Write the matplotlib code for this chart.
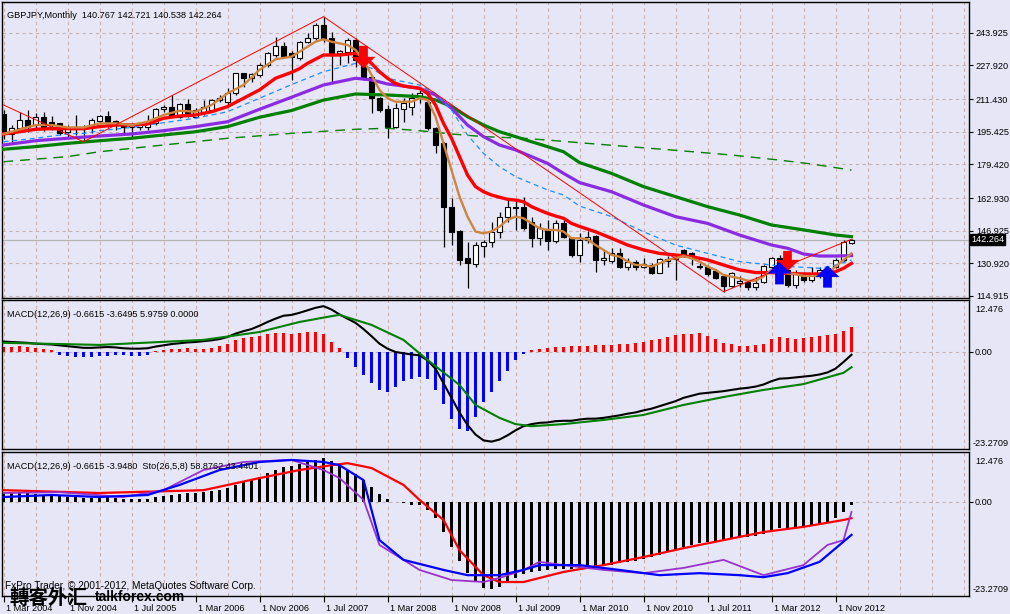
import matplotlib
matplotlib.use("Agg")
import matplotlib.pyplot as plt
import matplotlib.transforms as mtransforms
import numpy as np

plt.rcParams['font.family'] = ['Liberation Sans', 'DejaVu Sans']

# ---------------- texts ----------------
title_main = "GBPJPY,Monthly  140.767 142.721 140.538 142.264"
title_macd = "MACD(12,26,9) -0.6615 -3.6495 5.9759 0.0000"
title_sto = "MACD(12,26,9) -0.6615 -3.9480  Sto(26,5,8) 58.8762 43.4401"
copyright_text = "FxPro Trader, © 2001-2012, MetaQuotes Software Corp."
watermark_cn = "轉客外汇"
watermark_en = "talkforex.com"

# ---------------- monthly candles (Mar 2004 .. Jan 2013) ----------------
opens = [204.1,194.3,197.1,201.2,198.7,202.8,200.3,199.5,195.4,196.5,
         197.0,198.7,200.8,203.1,200.6,198.7,197.8,197.6,197.9,199.5,
         206.4,207.7,202.8,208.8,202.8,205.2,206.0,210.9,210.1,214.2,
         224.0,221.6,223.2,228.1,233.0,237.4,233.8,231.4,239.5,241.2,
         247.7,241.2,233.8,234.6,240.3,230.5,222.4,211.8,206.4,197.9,
         206.4,207.7,211.8,210.1,197.1,189.7,158.7,146.9,133.4,130.6,
         139.4,141.5,146.5,153.8,158.7,158.7,151.4,143.5,147.3,142.0,
         150.5,143.2,135.0,142.4,144.3,132.6,132.1,135.8,129.3,131.4,
         129.0,130.1,126.4,131.9,132.9,137.5,135.8,129.6,129.3,127.3,
         124.7,119.8,121.5,121.9,119.5,121.9,129.3,133.4,127.7,120.3,
         126.0,122.7,124.7,126.0,129.3,132.6,140.767]
highs = [206.0,198.7,205.2,206.0,204.7,205.2,203.1,199.8,198.7,203.6,
         198.7,202.0,203.6,205.5,201.2,199.5,199.5,199.8,203.6,206.9,
         208.5,213.4,209.3,211.3,206.9,210.9,211.3,213.4,216.7,224.3,
         224.3,224.0,228.9,234.6,242.0,239.5,235.0,240.0,243.6,248.5,
         251.8,244.4,235.5,241.2,241.2,232.2,223.2,212.6,208.5,209.3,
         211.8,214.2,215.9,211.8,197.9,190.5,162.8,147.2,141.5,141.5,
         142.4,151.4,156.3,161.9,161.9,163.6,153.8,150.5,152.2,152.2,
         152.2,144.0,145.6,147.0,144.8,137.5,138.3,138.3,133.4,132.6,
         133.4,130.9,133.4,134.5,135.0,137.8,136.6,130.9,130.1,128.0,
         125.5,126.8,124.7,122.7,124.0,130.1,134.2,135.0,128.5,127.7,
         126.8,129.3,129.3,129.3,133.4,142.4,142.721]
lows = [192.0,190.5,195.4,195.4,196.3,195.9,196.3,193.8,192.2,194.0,
        190.5,194.9,199.5,197.9,196.3,194.6,192.2,196.3,196.3,198.7,
        205.2,202.8,202.0,202.8,202.0,203.6,205.2,210.1,208.5,213.4,
        217.5,219.9,222.4,227.3,232.2,232.2,220.8,230.5,238.7,240.3,
        239.5,219.9,228.1,228.9,227.3,220.8,204.4,205.0,192.2,197.1,
        200.3,203.6,209.5,196.3,184.8,139.1,139.9,130.1,118.7,129.3,
        134.2,139.1,143.2,151.4,147.3,147.3,139.1,139.9,137.5,140.7,
        143.2,134.2,131.8,141.0,126.8,130.1,131.0,128.5,127.7,127.7,
        128.5,125.7,126.0,129.0,122.7,134.2,130.1,128.0,124.7,123.1,
        117.0,119.5,119.5,117.9,117.9,121.1,127.7,127.7,119.5,118.7,
        121.9,121.9,123.6,125.2,128.5,131.8,140.538]
closes = [194.6,197.1,201.2,197.9,202.8,197.1,198.7,194.6,197.1,197.5,
          196.6,201.2,203.1,200.3,198.7,197.6,198.6,199.5,200.6,206.4,
          207.7,203.1,208.8,203.1,206.0,207.7,210.9,212.1,214.2,224.0,
          221.6,223.7,228.1,233.8,237.4,232.7,232.2,239.5,241.2,247.7,
          240.7,233.8,235.1,240.3,230.5,222.4,211.8,206.0,197.9,206.9,
          209.3,211.8,214.2,197.1,188.9,158.4,146.5,132.6,130.9,139.9,
          141.5,146.5,153.8,158.7,158.0,148.1,143.5,148.1,142.0,150.5,
          144.0,135.0,142.4,143.6,132.6,133.4,136.1,129.3,131.4,129.0,
          130.4,126.4,132.9,132.9,133.5,135.0,133.4,129.0,125.7,123.6,
          119.8,126.0,122.5,119.5,121.5,129.6,133.4,128.5,120.3,126.0,
          122.7,125.2,127.7,128.5,132.6,141.5,142.264]
last_close = 142.264

ma_tan_x = [0,4,6,8,10,12,14,16,18,20,22,24,26,28,30,32,34,36,37,39,40,41,43,44,45,46,47,48,49,51,52,53,54,55,56,57,58,59,60,61,62,63,64,65,66,67,68,69,70,71,72,73,74,75,76,77,78,79,80,81,82,83,84,85,86,87,88,89,90,91,92,93,94,95,96,97,98,99,100,101,102,103,104,105,106]
ma_tan_y = [194.3,198.7,198.7,197.5,197.5,199.5,199.5,198.7,200.3,203.6,205.7,205.2,208.5,214.2,218.3,225.7,230.9,232.2,234.6,239.5,240.7,239.5,237.9,235.5,230.5,223.2,215.9,211.8,210.1,210.1,211.8,211.0,202.8,189.7,176.6,163.6,153.8,146.5,145.6,146.5,148.9,152.2,153.8,153.0,150.5,148.1,147.3,147.3,146.5,143.2,143.2,142.7,139.9,137.5,135.0,134.2,131.8,130.1,130.1,129.3,130.9,132.6,133.4,134.5,133.4,131.8,129.3,127.7,125.2,124.4,123.6,122.4,122.4,124.4,127.7,127.7,126.0,125.7,124.7,124.7,124.7,126.0,129.3,132.6,135.8]

ma_red_x = [0,2,4,6,8,10,12,14,16,18,20,22,24,26,28,30,32,34,36,37,38,40,42,44,45,46,47,48,49,50,51,52,53,54,55,56,57,58,59,60,61,62,63,64,65,66,67,68,69,70,71,72,74,76,78,80,82,84,86,88,90,92,94,96,98,100,102,104,105,106]
ma_red_y = [194.3,195.4,196.6,196.9,196.9,196.9,197.9,198.7,198.7,199.2,202.0,203.1,203.6,205.2,207.7,211.8,215.9,221.6,224.5,226.3,228.9,233.0,233.0,233.8,232.2,228.9,224.8,221.6,219.1,217.8,217.2,216.7,214.2,208.5,199.5,192.2,183.2,174.2,168.5,166.0,164.4,163.3,162.3,161.9,161.1,158.7,157.0,155.4,154.1,153.0,150.5,149.0,146.4,143.2,139.9,137.5,135.8,135.0,134.2,132.6,130.1,127.7,126.4,126.4,126.0,125.7,125.7,126.8,128.5,130.9]

ma_blue_x = [0,4,8,10,12,16,18,20,24,28,32,36,40,44,46,48,50,52,54,56,58,60,62,64,66,68,70,72,76,80,84,88,92,94,96,98,100,102,104,106]
ma_blue_y = [190.5,192.2,194.3,194.6,195.9,197.5,198.7,199.8,202.0,205.2,211.8,218.5,224.8,228.9,226.5,221.6,219.9,218.3,214.2,206.0,193.8,184.8,178.3,173.4,170.1,166.9,164.4,159.0,153.8,146.4,139.9,135.8,131.8,130.9,130.1,129.3,129.0,128.5,130.1,132.6]

ma_purple_x = [0,4,8,12,16,20,24,28,32,36,40,44,46,48,50,52,54,56,58,60,62,64,66,68,70,72,76,80,84,88,92,96,98,100,102,104,106]
ma_purple_y = [188.9,191.0,192.2,193.3,194.3,195.9,197.9,200.3,206.4,212.3,218.3,221.6,220.8,218.8,217.8,216.7,213.4,206.9,198.7,193.0,188.9,186.5,183.2,179.9,175.0,170.5,166.0,159.5,153.8,150.5,144.8,139.9,138.3,135.5,134.5,134.5,134.7]

ma_green_x = [0,4,8,12,16,20,24,28,32,36,40,44,48,52,54,56,58,60,62,64,66,68,70,72,76,80,84,88,92,96,100,104,106]
ma_green_y = [186.8,188.1,189.7,191.0,192.2,193.8,195.4,197.9,202.5,205.8,210.9,213.9,213.4,212.6,211.0,207.7,202.8,198.7,195.4,193.0,190.5,188.1,185.6,180.3,175.0,168.5,163.6,158.7,154.6,149.7,147.3,144.8,144.0]

ma_long_x = [0,8,12,20,28,36,44,48,52,56,60,65,69,73,84,91,97,101,106]
ma_long_y = [180.7,183.2,185.6,188.9,192.2,194.6,196.6,197.1,195.9,194.3,193.0,192.2,191.0,189.7,186.3,184.0,181.5,179.6,176.6]

zigzag_x = [0, 10, 40, 90, 106]
zigzag_y = [208.5, 190.5, 251.8, 117.0, 142.721]

sell_x = [45, 98]
sell_top = [237.5, 137.0]
sell_tip = [226.5, 127.0]
buy_x = [97, 103]
buy_base = [120.6, 119.0]
buy_tip = [131.5, 129.8]

price_levels = [114.915, 130.920, 146.925, 162.930, 179.420, 195.425, 211.430, 227.920, 243.925]
price_labels = ["114.915", "130.920", "146.925", "162.930", "179.420", "195.425", "211.430", "227.920", "243.925"]

# ---------------- MACD (main line shared by both panels) ----------------
macd_main = [2.5,2.4,2.3,2.2,2.0,1.9,1.8,1.6,
             1.4,1.2,1.0,1.0,1.1,1.2,1.1,0.9,0.8,0.8,0.9,
             1.3,1.6,1.9,2.1,2.3,2.4,2.6,2.8,3.1,
             3.6,4.4,5.0,5.5,6.3,7.2,8.0,8.7,8.9,9.4,10.0,10.6,11.0,
             10.2,9.0,8.0,7.0,5.5,3.8,2.0,
             0.8,0.0,-0.3,-0.6,-0.8,-2.0,-4.0,-7.5,-11.0,-14.5,-17.5,-19.8,-21.2,-21.5,-21.0,
             -20.0,-18.8,-17.8,-17.3,-17.0,-16.9,-16.6,-16.5,-16.5,-16.2,-16.0,-16.0,-15.8,-15.5,
             -15.2,-14.8,-14.5,-14.0,-13.6,-13.0,-12.4,-11.8,-11.0,-10.5,-10.0,-9.8,-9.6,-9.4,
             -9.1,-8.8,-8.6,-8.3,-7.8,-7.0,-6.4,-6.3,-6.1,-5.9,-5.7,-5.4,-4.9,-4.0,-2.4,-0.6615]

macd_signal_x = [0,12,25,32,37,41,42,46,50,53,57,59,62,64,66,70,75,80,85,90,95,100,105,106]
macd_signal_y = [2.2,1.7,2.9,4.8,7.2,8.6,8.9,6.5,2.9,-1.9,-7.9,-12.7,-15.8,-17.3,-17.8,-17.3,-16.3,-15.1,-12.7,-10.8,-9.1,-7.7,-5.0,-3.6495]

macd_hist = [1.2,1.3,1.4,1.2,1.0,0.8,0.4,
             -0.6,-0.9,-1.1,-1.2,-1.1,-1.0,-0.9,-0.8,-0.7,-0.9,-1.0,-0.6,
             0.3,0.5,0.7,0.8,0.9,0.8,0.7,0.9,
             1.5,2.0,2.8,3.3,3.6,3.8,4.2,4.5,4.6,4.4,4.6,4.8,4.8,4.2,
             2.5,1.0,-1.5,-3.5,-5.5,-7.5,-9.0,-9.5,-8.5,-7.0,-6.5,-6.0,-6.5,-9.0,-12.5,-16.0,
             -18.5,-19.0,-15.5,-12.0,-9.5,-7.0,-4.5,-2.0,-0.5,
             0.4,0.7,0.9,1.1,1.3,1.4,1.5,1.5,1.6,1.7,1.7,
             1.8,2.0,2.2,2.5,2.8,3.2,3.6,4.0,4.2,4.3,4.5,
             3.8,3.0,2.2,1.8,1.5,1.5,1.6,2.0,
             3.0,3.5,3.3,3.2,3.3,3.5,3.8,4.0,4.3,5.0,5.9759]

# panel 3 lines (in panel units)
p3_red_x = [0,12,25,32,37,41,43,46,50,52,55,57,60,62,65,67,70,75,80,85,90,95,100,105,106]
p3_red_y = [3.0,2.3,3.0,6.0,8.0,9.2,9.7,8.5,4.3,0.6,-4.4,-11.9,-18.1,-19.8,-19.8,-18.8,-17.3,-15.6,-13.6,-11.4,-9.4,-7.4,-6.1,-4.4,-3.948]
p3_blue_x = [0,6,12,18,22,27,32,36,40,42,45,46,47,50,55,58,62,65,67,72,77,82,87,92,95,98,102,106]
p3_blue_y = [1.3,1.8,1.3,1.8,4.3,8.0,10.0,10.5,10.0,9.2,5.5,-1.9,-9.4,-14.3,-16.8,-18.1,-18.1,-16.8,-15.6,-15.6,-16.8,-18.1,-17.6,-18.1,-18.6,-17.6,-14.8,-8.1]
p3_purple_x = [0,7,15,20,25,30,36,40,42,45,47,50,52,56,60,62,65,67,70,75,80,85,90,95,100,103,105,106]
p3_purple_y = [2.3,2.5,1.3,3.0,8.0,10.0,10.5,8.0,6.0,0.6,-10.6,-14.3,-16.8,-19.3,-19.8,-18.8,-16.8,-14.8,-15.6,-16.8,-17.6,-16.3,-14.3,-18.1,-15.6,-10.6,-9.4,-2.4]

osc_max = 12.476
osc_min = -23.2709
osc_labels = ["12.476", "0.00", "-23.2709"]

date_idx = [0, 8, 16, 24, 32, 40, 48, 56, 64, 72, 80, 88, 96, 104]
date_labels = ["1 Mar 2004", "1 Nov 2004", "1 Jul 2005", "1 Mar 2006", "1 Nov 2006",
               "1 Jul 2007", "1 Mar 2008", "1 Nov 2008", "1 Jul 2009", "1 Mar 2010",
               "1 Nov 2010", "1 Jul 2011", "1 Mar 2012", "1 Nov 2012"]

# ---------------- layout ----------------
W, H = 1010, 614
BG = '#E6E6F6'
GRID = '#C9B2B2'
FS = 6.6

fig = plt.figure(figsize=(W / 100, H / 100), dpi=100)
fig.patch.set_facecolor(BG)

def rect(top, bottom, left=2, right=969):
    return [left / W, 1 - bottom / H, (right - left) / W, (bottom - top) / H]

ax1 = fig.add_axes(rect(2, 298))
ax2 = fig.add_axes(rect(300, 449))
ax3 = fig.add_axes(rect(452, 596))

n = len(closes)
idx = np.arange(n)
x_lo = (2 - 3.5) / 8.0
x_hi = (969 - 3.5) / 8.0

for ax in (ax1, ax2, ax3):
    ax.set_facecolor(BG)
    ax.set_xlim(x_lo, x_hi)
    for s in ax.spines.values():
        s.set_color('black')
        s.set_linewidth(1.0)
    for gx in range(0, 121, 4):
        ax.axvline(gx, color=GRID, lw=0.8, ls=(0, (3, 3)), zorder=0)
    ax.tick_params(axis='x', length=0, labelbottom=False)

# ---- main price panel ----
ax1.set_ylim(113.93, 258.97)
for lv in price_levels:
    ax1.axhline(lv, color=GRID, lw=0.8, ls=(0, (3, 3)), zorder=0)
ax1.axhline(last_close, color='#B4B4B4', lw=0.9, zorder=0.5)
ax1.yaxis.tick_right()
ax1.set_yticks(price_levels)
ax1.set_yticklabels(price_labels)
ax1.tick_params(axis='y', direction='out', length=3, width=0.8, pad=2, labelsize=FS)

o = np.array(opens); h = np.array(highs); l = np.array(lows); c = np.array(closes)
ax1.vlines(idx, l, h, color='black', lw=0.9, zorder=2)
up = c >= o
body_lo = np.minimum(o, c)
body_h = np.maximum(np.abs(c - o), 0.35)
ax1.bar(idx[up], body_h[up], bottom=body_lo[up], width=0.62, color='white',
        edgecolor='black', lw=0.8, zorder=3)
ax1.bar(idx[~up], body_h[~up], bottom=body_lo[~up], width=0.62, color='black',
        edgecolor='black', lw=0.8, zorder=3)

ax1.plot(ma_long_x, ma_long_y, color='#008000', lw=1.0, dashes=(7, 5), zorder=4)
ax1.plot(ma_green_x, ma_green_y, color='#008000', lw=2.3, zorder=4)
ax1.plot(ma_purple_x, ma_purple_y, color='#8A2BE2', lw=2.3, zorder=4)
ax1.plot(ma_blue_x, ma_blue_y, color='#1E90FF', lw=0.9, dashes=(4, 3), zorder=4)
ax1.plot(ma_red_x, ma_red_y, color='#FF0000', lw=2.4, zorder=5)
ax1.plot(ma_tan_x, ma_tan_y, color='#CD853F', lw=1.7, zorder=5)
ax1.plot(zigzag_x, zigzag_y, color='#FF0000', lw=0.7, zorder=5)

arrow_style = 'simple,head_length=0.55,head_width=1.15,tail_width=0.42'
for xs, yt, yb in zip(sell_x, sell_top, sell_tip):
    ax1.annotate('', xy=(xs, yb), xytext=(xs, yt),
                 arrowprops=dict(arrowstyle=arrow_style, color='#FF0000', lw=0,
                                 mutation_scale=15, shrinkA=0, shrinkB=0), zorder=6)
for xb, yb, yt in zip(buy_x, buy_base, buy_tip):
    ax1.annotate('', xy=(xb, yt), xytext=(xb, yb),
                 arrowprops=dict(arrowstyle=arrow_style, color='#0000FF', lw=0,
                                 mutation_scale=15, shrinkA=0, shrinkB=0), zorder=6)

ax1.text(0.005, 0.97, title_main, transform=ax1.transAxes, fontsize=FS, va='top', ha='left')

# current price box
fig.text(971 / W, 1 - 239.5 / H, "142.264", fontsize=FS, color='white', va='center', ha='left',
         bbox=dict(boxstyle='square,pad=0.15', fc='black', ec='black'))

# ---- oscillator panels ----
def osc_setup(ax, top_px, bottom_px):
    ax.set_ylim(osc_min, osc_max)
    ax.axhline(0, color=GRID, lw=0.8, ls=(0, (3, 3)), zorder=0)
    ax.yaxis.tick_right()
    ax.set_yticks([0])
    ax.set_yticklabels([""])
    ax.tick_params(axis='y', direction='out', length=3, width=0.8)
    xt = 973 / W
    zero_px = top_px + (bottom_px - top_px) * osc_max / (osc_max - osc_min)
    fig.text(xt + 2 / W, 1 - (top_px + 9) / H, osc_labels[0], fontsize=FS, va='center', ha='left')
    fig.text(xt + 2 / W, 1 - zero_px / H, osc_labels[1], fontsize=FS, va='center', ha='left')
    fig.text(xt, 1 - (bottom_px - 6) / H, osc_labels[2], fontsize=FS, va='center', ha='left')

osc_setup(ax2, 300, 449)
hist = np.array(macd_hist)
ax2.bar(idx, hist, width=0.4, color=np.where(hist >= 0, '#FF0000', '#0000FF'), zorder=2)
ax2.plot(idx, macd_main, color='black', lw=1.5, zorder=3)
ax2.plot(macd_signal_x, macd_signal_y, color='#008000', lw=1.5, zorder=3)
ax2.text(0.005, 0.93, title_macd, transform=ax2.transAxes, fontsize=FS, va='top', ha='left')

osc_setup(ax3, 452, 596)
ax3.bar(idx, macd_main, width=0.4, color='black', zorder=2)
ax3.plot(p3_red_x, p3_red_y, color='#FF0000', lw=1.6, zorder=3)
ax3.plot(p3_purple_x, p3_purple_y, color='#9932CC', lw=1.3, zorder=3)
ax3.plot(p3_blue_x, p3_blue_y, color='#0000FF', lw=1.6, zorder=3)
ax3.text(0.005, 0.93, title_sto, transform=ax3.transAxes, fontsize=FS, va='top', ha='left')
ax3.text(0.003, 0.035, copyright_text, transform=ax3.transAxes, fontsize=FS + 0.6,
         va='bottom', ha='left', zorder=7)

ax3.set_xticks(date_idx)
ax3.set_xticklabels(date_labels)
ax3.tick_params(axis='x', direction='out', length=4, width=0.8, pad=1.5,
                labelbottom=True, labelsize=FS)
offset = mtransforms.ScaledTranslation(2 / 100, 0, fig.dpi_scale_trans)
for lab in ax3.get_xticklabels():
    lab.set_ha('left')
    lab.set_transform(lab.get_transform() + offset)

# watermark overlay (Chinese part larger, latin part smaller, as in the reference)
fig.text(9 / W, 1 - 598 / H, watermark_cn, fontsize=14, fontweight='bold',
         va='center', ha='left', family=['Noto Sans CJK SC', 'DejaVu Sans'], zorder=10)
fig.text(95 / W, 1 - 597 / H, watermark_en, fontsize=10, fontweight='bold',
         va='center', ha='left', family=['Liberation Sans', 'DejaVu Sans'], zorder=10)

fig.savefig("out.png", dpi=100, facecolor=BG)
